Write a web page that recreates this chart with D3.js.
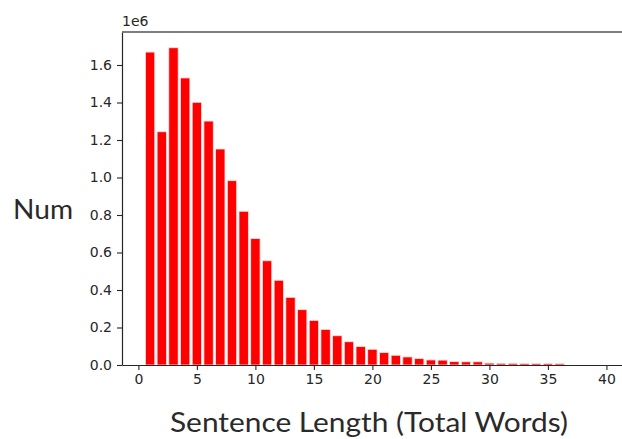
<!DOCTYPE html>
<html>
<head>
<meta charset="utf-8">
<script src="https://cdn.jsdelivr.net/npm/d3@7"></script>
<style>
  body { margin: 0; background: #fff; }
  .tick text { font-family: "DejaVu Sans", sans-serif; font-size: 14px; fill: #262626; }
  .axisTitle { font-family: Lato, "Noto Sans", sans-serif; font-weight: 400; fill: #2a2a2a; }
</style>
</head>
<body>
<div id="chart"></div>
<script>
// Sentence length (words) and number of sentences
var lengths = [1, 2, 3, 4, 5, 6, 7, 8, 9, 10, 11, 12, 13, 14, 15, 16, 17, 18,
  19, 20, 21, 22, 23, 24, 25, 26, 27, 28, 29, 30, 31, 32, 33, 34, 35, 36];
var counts = [1669000, 1244000, 1692000, 1531000, 1401000, 1301000, 1152000, 983000,
  820000, 674000, 556000, 452000, 361000, 295000, 238000, 190000, 156000, 124000,
  98000, 84000, 66000, 52000, 43000, 34000, 27000, 26000, 18000, 17000, 17000,
  10000, 9000, 9000, 8000, 8000, 8000, 7000];
var xTicks = [0, 5, 10, 15, 20, 25, 30, 35, 40];
var yTicks = [0, 200000, 400000, 600000, 800000, 1000000, 1200000, 1400000, 1600000];

var svgWidth = 622;
var svgHeight = 439;

var margin = { top: 32, right: -18, bottom: 74, left: 122 };
var width = svgWidth - margin.left - margin.right;
var height = svgHeight - margin.top - margin.bottom;

var svg = d3.select("#chart")
  .append("svg")
  .attr("width", svgWidth)
  .attr("height", svgHeight);

var chartGroup = svg.append("g")
  .attr("transform", `translate(${margin.left}, ${margin.top})`);

var xScale = d3.scaleLinear()
  .domain([-1.4, 42.87])
  .range([0, width]);

var yScale = d3.scaleLinear()
  .domain([0, 1.776e6])
  .range([height, 0]);

// bars
var barW = xScale(0.8) - xScale(0);
chartGroup.selectAll("rect.bar")
  .data(lengths)
  .enter()
  .append("rect")
  .attr("class", "bar")
  .attr("x", (d, i) => xScale(d) - barW / 2)
  .attr("y", (d, i) => yScale(counts[i]))
  .attr("width", barW)
  .attr("height", (d, i) => height - yScale(counts[i]))
  .attr("fill", "red")
  .attr("stroke", "#ffe0e0")
  .attr("stroke-width", 0.8);

// axes
var xAxis = d3.axisBottom(xScale)
  .tickValues(xTicks)
  .tickSize(5)
  .tickPadding(4)
  .tickSizeOuter(0);

var yAxis = d3.axisLeft(yScale)
  .tickValues(yTicks)
  .tickSize(5)
  .tickPadding(5)
  .tickFormat(d => d3.format(".1f")(d / 1e6))
  .tickSizeOuter(0);

var gx = chartGroup.append("g")
  .attr("transform", `translate(0, ${height})`)
  .call(xAxis);

var gy = chartGroup.append("g")
  .call(yAxis);

[gx, gy].forEach(function (g) {
  g.select(".domain").attr("stroke", "#262626").attr("stroke-width", 1.2);
  g.selectAll(".tick line").attr("stroke", "#262626").attr("stroke-width", 1.1);
});

// top spine
chartGroup.append("line")
  .attr("x1", 0)
  .attr("x2", width)
  .attr("y1", 0)
  .attr("y2", 0)
  .attr("stroke", "#555")
  .attr("stroke-width", 1.4);

// offset text
chartGroup.append("text")
  .attr("x", 0)
  .attr("y", -6)
  .attr("font-family", "DejaVu Sans, sans-serif")
  .attr("font-size", 14)
  .attr("fill", "#262626")
  .text("1e6");

// axis titles
svg.append("text")
  .attr("class", "axisTitle")
  .attr("x", 13)
  .attr("y", 219)
  .attr("font-size", 26)
  .attr("textLength", 60)
  .attr("lengthAdjust", "spacingAndGlyphs")
  .text("Num");

svg.append("text")
  .attr("class", "axisTitle")
  .attr("x", 170)
  .attr("y", 432)
  .attr("font-size", 27)
  .attr("textLength", 398)
  .attr("lengthAdjust", "spacingAndGlyphs")
  .text("Sentence Length (Total Words)");
</script>
</body>
</html>
